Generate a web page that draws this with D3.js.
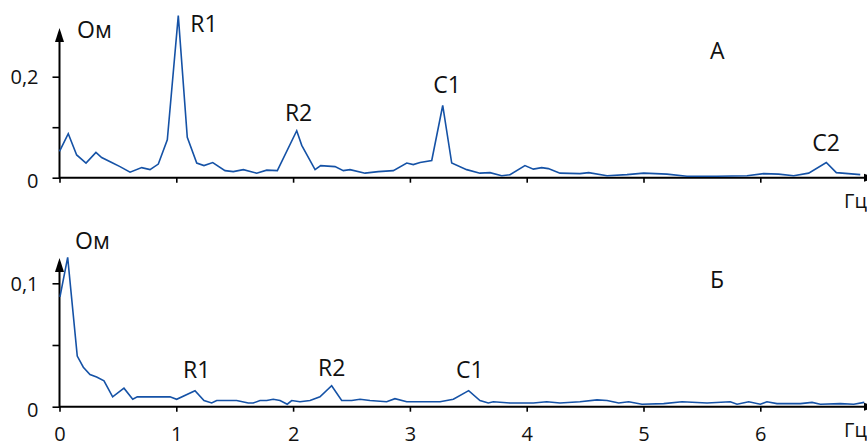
<!DOCTYPE html>
<html>
<head>
<meta charset="utf-8">
<script src="https://cdn.jsdelivr.net/npm/d3@7"></script>
<style>
  body { margin: 0; background: #fff; }
  svg { display: block; }
  text { font-family: "Open Sans", "DejaVu Sans", sans-serif; fill: #111; }
</style>
</head>
<body>
<div id="chart"></div>
<script>
// spectrum A: frequency (Hz) and impedance (Ohm)
var freqA = [0, 0.075, 0.147, 0.227, 0.312, 0.361, 0.447, 0.518, 0.604, 0.704, 0.775, 0.846, 0.923, 1.017,
  1.094, 1.175, 1.237, 1.312, 1.417, 1.488, 1.574, 1.688, 1.774, 1.865, 2.031, 2.074, 2.188, 2.236, 2.359,
  2.430, 2.487, 2.616, 2.729, 2.858, 2.973, 3.029, 3.087, 3.187, 3.281, 3.358, 3.486, 3.600, 3.686, 3.786,
  3.857, 3.985, 4.057, 4.128, 4.185, 4.285, 4.456, 4.531, 4.688, 4.859, 5.002, 5.201, 5.372, 5.629, 5.886,
  6.029, 6.157, 6.286, 6.414, 6.565, 6.651, 6.856];
var valsA = [0.052, 0.087, 0.045, 0.029, 0.050, 0.040, 0.030, 0.022, 0.011, 0.020, 0.016, 0.027, 0.075, 0.321,
  0.080, 0.029, 0.024, 0.030, 0.014, 0.012, 0.016, 0.009, 0.015, 0.014, 0.093, 0.064, 0.016, 0.024, 0.022,
  0.014, 0.016, 0.009, 0.012, 0.014, 0.029, 0.026, 0.030, 0.034, 0.143, 0.029, 0.016, 0.009, 0.010, 0.004,
  0.006, 0.024, 0.017, 0.020, 0.018, 0.009, 0.008, 0.010, 0.004, 0.006, 0.009, 0.007, 0.003, 0.003, 0.004,
  0.008, 0.007, 0.004, 0.009, 0.030, 0.010, 0.006];

// spectrum Б
var freqB = [0.004, 0.070, 0.152, 0.204, 0.261, 0.318, 0.381, 0.455, 0.552, 0.627, 0.666, 0.775, 0.946, 1.003,
  1.160, 1.237, 1.303, 1.346, 1.517, 1.616, 1.659, 1.717, 1.774, 1.830, 1.888, 1.950, 1.988, 2.059, 2.145,
  2.230, 2.330, 2.416, 2.502, 2.573, 2.658, 2.801, 2.872, 2.973, 3.258, 3.372, 3.503, 3.600, 3.671, 3.714,
  3.857, 4.057, 4.171, 4.285, 4.456, 4.602, 4.688, 4.788, 4.873, 4.987, 5.173, 5.330, 5.544, 5.743, 5.801,
  5.901, 6.000, 6.057, 6.143, 6.343, 6.443, 6.514, 6.685, 6.800, 6.890];
var valsB = [0.089, 0.121, 0.041, 0.032, 0.026, 0.024, 0.021, 0.008, 0.015, 0.006, 0.008, 0.008, 0.008, 0.006,
  0.013, 0.005, 0.003, 0.005, 0.005, 0.003, 0.003, 0.005, 0.005, 0.006, 0.005, 0.002, 0.005, 0.004, 0.005,
  0.008, 0.017, 0.005, 0.005, 0.006, 0.005, 0.004, 0.0065, 0.004, 0.004, 0.006, 0.013, 0.005, 0.003, 0.004,
  0.003, 0.003, 0.004, 0.003, 0.004, 0.0055, 0.005, 0.003, 0.004, 0.002, 0.0025, 0.004, 0.003, 0.004, 0.002,
  0.004, 0.002, 0.004, 0.0025, 0.0025, 0.0035, 0.002, 0.0025, 0.002, 0.0035];

var xTicks = [0, 1, 2, 3, 4, 5, 6];
var yTicksA = [0, 0.1, 0.2];
var yTicksB = [0, 0.05, 0.1];

// peak labels, anchored in data units
var peaksA = [{t: "R1", f: 1.12, v: 0.289}, {t: "R2", f: 1.93, v: 0.113}, {t: "C1", f: 3.2, v: 0.168}, {t: "C2", f: 6.445, v: 0.053}];
var peaksB = [{t: "R1", f: 1.057, v: 0.023}, {t: "R2", f: 2.213, v: 0.025}, {t: "C1", f: 3.395, v: 0.023}];

var W = 867, H = 443;
var lineColor = "#1552a6";

var svg = d3.select("#chart").append("svg")
  .attr("width", W)
  .attr("height", H);

var x = d3.scaleLinear().domain([0, 7]).range([59.5, 877.1]);

function fmt(d) { return String(d).replace(".", ","); }

function panel(opt) {
  var y = d3.scaleLinear().domain(opt.domain).range(opt.range);
  var g = svg.append("g");

  // x axis: ticks only, line drawn by hand so it can run to the arrow
  var xa = g.append("g")
    .attr("transform", "translate(0," + y(0) + ")")
    .call(d3.axisBottom(x).tickValues(xTicks).tickSize(5).tickSizeOuter(0)
      .tickFormat(opt.xLabels ? d3.format("d") : ""));
  xa.select(".domain").remove();
  xa.selectAll("line").attr("stroke", "#000").attr("stroke-width", 1.6);
  xa.selectAll("text")
    .attr("y", 20).attr("dy", "0.71em")
    .style("font-size", "20px").attr("fill", "#111");

  // y axis
  var ya = g.append("g")
    .attr("transform", "translate(" + x(0) + ",0)")
    .call(d3.axisLeft(y).tickValues(opt.yTicks).tickSize(7).tickSizeOuter(0)
      .tickFormat(function(d) { return d === opt.yTicks[1] ? "" : fmt(d); }));
  ya.select(".domain").remove();
  ya.selectAll("line").attr("stroke", "#000").attr("stroke-width", 1.6);
  ya.selectAll("text")
    .attr("x", -21)
    .attr("dy", function(d) { return d === 0 ? "0.5em" : "0.36em"; })
    .style("font-size", "20px").attr("fill", "#111");

  // axis lines + arrows
  g.append("line")
    .attr("x1", x(0)).attr("x2", 866)
    .attr("y1", y(0)).attr("y2", y(0))
    .attr("stroke", "#000").attr("stroke-width", 2);
  g.append("line")
    .attr("x1", x(0)).attr("x2", x(0))
    .attr("y1", y(0) + 1).attr("y2", opt.arrowTop + 8)
    .attr("stroke", "#000").attr("stroke-width", 2);
  g.append("path")
    .attr("d", "M" + x(0) + "," + opt.arrowTop + "L" + (x(0) - 4.5) + "," + (opt.arrowTop + 14) +
      "L" + (x(0) + 4.5) + "," + (opt.arrowTop + 14) + "Z")
    .attr("fill", "#000");
  g.append("path")
    .attr("d", "M876," + y(0) + "L864," + (y(0) - 4) + "L864," + (y(0) + 4) + "Z")
    .attr("fill", "#000");

  // spectrum line
  var pts = opt.freq.map(function(f, i) { return [f, opt.vals[i]]; });
  g.append("path")
    .datum(pts)
    .attr("fill", "none")
    .attr("stroke", lineColor)
    .attr("stroke-width", 1.6)
    .attr("stroke-linejoin", "miter")
    .attr("d", d3.line().x(function(d) { return x(d[0]); }).y(function(d) { return y(d[1]); }));

  // peak labels
  g.selectAll(".peak")
    .data(opt.peaks)
    .enter().append("text")
    .attr("class", "peak")
    .attr("x", function(d) { return x(d.f); })
    .attr("y", function(d) { return y(d.v); })
    .style("font-size", "23px")
    .text(function(d) { return d.t; });

  // unit, panel letter, Hz
  g.append("text").attr("x", opt.unitPos[0]).attr("y", opt.unitPos[1])
    .style("font-size", "23px").text("Ом");
  g.append("text").attr("x", 710).attr("y", opt.letterY)
    .style("font-size", "23px").text(opt.letter);
  g.append("text").attr("x", 844).attr("y", y(0) + 30)
    .style("font-size", "20px").text("Гц");
}

panel({
  freq: freqA, vals: valsA, domain: [0, 0.2], range: [177.7, 76.7],
  yTicks: yTicksA, xLabels: false, peaks: peaksA,
  arrowTop: 28, unitPos: [77, 38], letter: "А", letterY: 59
});

panel({
  freq: freqB, vals: valsB, domain: [0, 0.1], range: [406.7, 283.3],
  yTicks: yTicksB, xLabels: true, peaks: peaksB,
  arrowTop: 258, unitPos: [75, 249], letter: "Б", letterY: 288
});
</script>
</body>
</html>
